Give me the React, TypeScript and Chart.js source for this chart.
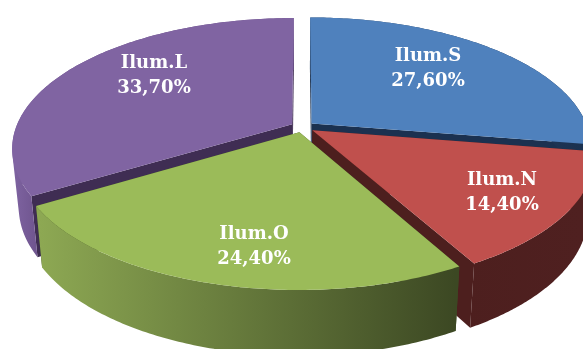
import React, { useEffect, useRef } from "react";
import { Chart, registerables } from "chart.js";

Chart.register(...registerables);

const categories = ["Ilum.S", "Ilum.N", "Ilum.O", "Ilum.L"];
const shares = [27.6, 14.4, 24.4, 33.7];
const topColors = ["#4F81BD", "#C0504D", "#9BBB59", "#8064A2"];
const cutWallColors = ["#1B3150", "#4D1F1E", "#3D4A24", "#3F2D53"];
const outerWallStops = [
  ["#2F4D72", "#1B3150"],
  ["#4D1F1E", "#4F2020"],
  ["#8DA853", "#3C4823"],
  ["#7F64A2", "#6A5088"],
];
const outerWallSpans = [
  [312, 583],
  [460, 583],
  [40, 455],
  [12, 45],
];
const paintOrder = [3, 0, 1, 2];
const labelCentres = [
  [428, 56],
  [502, 180],
  [254, 234],
  [154, 63],
];

// perspective of the disc
const CX = 302.5;
const CY = 127;
const RX = 276;
const RY = 126.6;
const P = 0.183;
// lower face of the disc
const X0 = 300;
const SHRINK = 0.977;
const DEPTH = 57.5;
const DEPTH_GROW = 0.05;

const project = (u: number, v: number) => {
  const w = 1 - P * v;
  return [CX + (RX * u) / w, CY + (RY * v) / w];
};
const lower = (pt: number[]) => [
  X0 + (pt[0] - X0) * SHRINK,
  pt[1] + DEPTH + DEPTH_GROW * (pt[1] - CY),
];

const fillPoly = (ctx: CanvasRenderingContext2D, pts: number[][], style: any) => {
  ctx.beginPath();
  pts.forEach((p, i) => (i ? ctx.lineTo(p[0], p[1]) : ctx.moveTo(p[0], p[1])));
  ctx.closePath();
  ctx.fillStyle = style;
  ctx.fill();
};

// The rim strip folds over itself at the silhouette, so each quad is wound the same way
// and the non-zero fill gives the union without holes or seams.
const fillStrip = (ctx: CanvasRenderingContext2D, a: number[][], b: number[][], style: any) => {
  ctx.beginPath();
  for (let k = 0; k < a.length - 1; k++) {
    let q = [a[k], a[k + 1], b[k + 1], b[k]];
    let area = 0;
    q.forEach((p, j) => {
      const n = q[(j + 1) % 4];
      area += p[0] * n[1] - n[0] * p[1];
    });
    if (area < 0) q = q.reverse();
    q.forEach((p, j) => (j ? ctx.lineTo(p[0], p[1]) : ctx.moveTo(p[0], p[1])));
    ctx.closePath();
  }
  ctx.fillStyle = style;
  ctx.fill();
};

const disc3d = {
  id: "disc3d",
  beforeDatasetDraw(chart: any) {
    const ctx: CanvasRenderingContext2D = chart.ctx;
    const arcs = chart.getDatasetMeta(0).data;
    ctx.save();
    paintOrder.forEach((i) => {
      const arc = arcs[i];
      const { startAngle, endAngle, outerRadius } = arc;
      const mid = (startAngle + endAngle) / 2;
      const e = arc.options.offset / outerRadius;
      const ou = e * Math.cos(mid);
      const ov = e * Math.sin(mid);
      const rim: number[][] = [];
      const N = 120;
      for (let k = 0; k <= N; k++) {
        const a = startAngle + ((endAngle - startAngle) * k) / N;
        rim.push(project(ou + Math.cos(a), ov + Math.sin(a)));
      }
      const tip = project(ou, ov);
      const rimLow = rim.map(lower);
      const tipLow = lower(tip);

      fillPoly(ctx, [tip, rim[0], rimLow[0], tipLow], cutWallColors[i]);
      fillPoly(ctx, [tip, rim[N], rimLow[N], tipLow], cutWallColors[i]);
      const g = ctx.createLinearGradient(outerWallSpans[i][0], 0, outerWallSpans[i][1], 0);
      g.addColorStop(0, outerWallStops[i][0]);
      g.addColorStop(1, outerWallStops[i][1]);
      fillStrip(ctx, rim, rimLow, g);
      fillPoly(ctx, [tip, ...rim], arc.options.backgroundColor);
    });

    ctx.fillStyle = "#FFFFFF";
    ctx.textAlign = "center";
    ctx.textBaseline = "middle";
    ctx.font = 'bold 18px "DejaVu Serif"';
    categories.forEach((name, i) => {
      const [x, y] = labelCentres[i];
      ctx.fillText(name, x, y);
      ctx.fillText(shares[i].toFixed(2).replace(".", ",") + "%", x, y + 25);
    });
    ctx.restore();
    return false;
  },
};

export default function App() {
  const ref = useRef<HTMLCanvasElement>(null);
  useEffect(() => {
    document.body.style.margin = "0";
    document.body.style.background = "#FFFFFF";
    const chart = new Chart(ref.current as HTMLCanvasElement, {
      type: "pie",
      data: {
        labels: categories,
        datasets: [
          {
            data: shares,
            backgroundColor: topColors,
            borderWidth: 0,
            offset: 7.4,
          },
        ],
      },
      options: {
        responsive: false,
        animation: false,
        events: [],
        plugins: { legend: { display: false }, tooltip: { enabled: false } },
      },
      plugins: [disc3d],
    } as any);
    return () => chart.destroy();
  }, []);
  return (
    <div style={{ width: 583, height: 349, overflow: "hidden" }}>
      <canvas ref={ref} width={583} height={349} style={{ display: "block" }} />
    </div>
  );
}
